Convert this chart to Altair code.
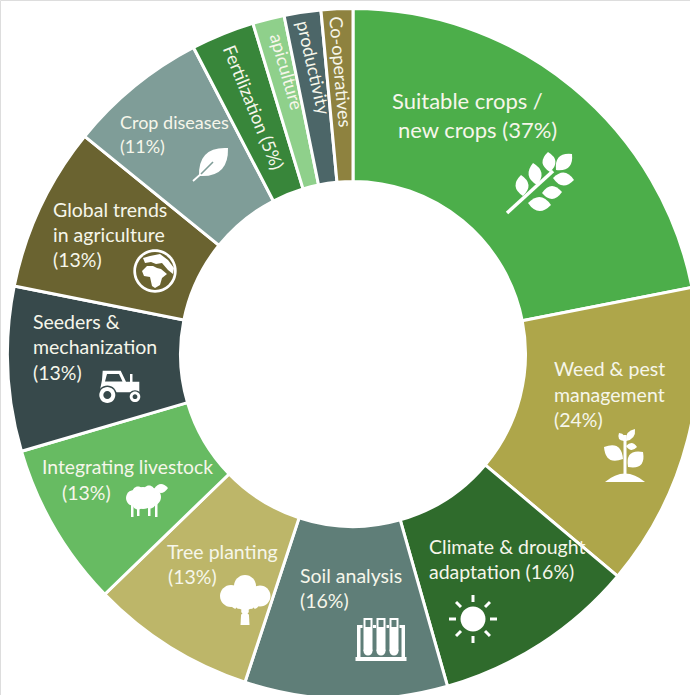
import math
import altair as alt
import pandas as pd

# Slices, clockwise from twelve o'clock
topics = ["Suitable crops / new crops", "Weed & pest management", "Climate & drought adaptation",
          "Soil analysis", "Tree planting", "Integrating livestock", "Seeders & mechanization",
          "Global trends in agriculture", "Crop diseases", "Fertilization", "apiculture",
          "productivity", "Co-operatives"]
shares = [37, 24, 16, 16, 13, 13, 13, 13, 11, 5, 2.5, 2.9, 2.5]
colours = ["#4cae4a", "#aea64a", "#2f6b2c", "#5f7e78", "#bdb669", "#67bb62", "#37494b",
           "#6a6330", "#7f9d98", "#38863a", "#8fd08b", "#4c6668", "#8e823f"]

INK = "#f6f6ea"
CX, CY = 353, 354

# Label lines: text, left edge, middle, size
flat_lines = [
    ("Suitable crops /", 392, 102, 22), ("new crops (37%)", 398, 131, 22),
    ("Weed & pest", 554, 370, 19.5), ("management", 554, 396, 19.5), ("(24%)", 554, 421, 19.5),
    ("Climate & drought", 429, 548, 19.5), ("adaptation (16%)", 429, 573, 19.5),
    ("Soil analysis", 300, 577, 19.5), ("(16%)", 300, 602, 19.5),
    ("Tree planting", 167, 553, 19.5), ("(13%)", 168, 578, 19.5),
    ("Integrating livestock", 42, 468, 19.3), ("(13%)", 62, 494, 19.5),
    ("Seeders &", 33, 323, 19.5), ("mechanization", 33, 348, 19.5), ("(13%)", 33, 374, 19.5),
    ("Global trends", 53, 211, 19.5), ("in agriculture", 53, 236, 19.5), ("(13%)", 53, 261, 19.5),
    ("Crop diseases", 120, 124, 18), ("(11%)", 120, 148, 18),
]
# Labels that run along the narrow slices: text, centre x, centre y, rotation
radial_lines = [
    ("Fertilization (5%)", 252, 108, 68),
    ("apiculture", 285, 72, 74),
    ("productivity", 312, 68, 77),
    ("Co-operatives", 339, 72, 85),
]


# Small shape helpers for the icons, in pixels around each icon's anchor
def poly(*pts):
    return "M" + "L".join(f"{x:.2f},{y:.2f}" for x, y in pts) + "Z"


def box(x0, y0, x1, y1):
    return poly((x0, y0), (x1, y0), (x1, y1), (x0, y1))


def disc(cx, cy, r):
    return (f"M{cx + r:.2f},{cy:.2f}A{r:.2f},{r:.2f} 0 1 1 {cx - r:.2f},{cy:.2f}"
            f"A{r:.2f},{r:.2f} 0 1 1 {cx + r:.2f},{cy:.2f}Z")


def bar(x0, y0, x1, y1, w):
    dx, dy = x1 - x0, y1 - y0
    n = math.hypot(dx, dy)
    ox, oy = -dy / n * w / 2, dx / n * w / 2
    return poly((x0 + ox, y0 + oy), (x1 + ox, y1 + oy), (x1 - ox, y1 - oy), (x0 - ox, y0 - oy))


def blade(x0, y0, x1, y1, w):
    # Pointed leaf whose widest part is about w across
    dx, dy = x1 - x0, y1 - y0
    n = math.hypot(dx, dy)
    ox, oy = -dy / n * w, dx / n * w
    mx, my = (x0 + x1) / 2, (y0 + y1) / 2
    return (f"M{x0:.2f},{y0:.2f}Q{mx + ox:.2f},{my + oy:.2f} {x1:.2f},{y1:.2f}"
            f"Q{mx - ox:.2f},{my - oy:.2f} {x0:.2f},{y0:.2f}Z")


WHITE = "#ffffff"
GREEN, OLIVE, FOREST, SLATE, SAND, MEADOW, CHARCOAL, UMBER, SAGE = colours[:9]

wheat = [
    (bar(-33, 30, 13, -12, 3.5), WHITE),
    (blade(-19, -8, -17, 13, 13), WHITE), (blade(-7, -20, -3, 2, 13), WHITE),
    (blade(8, -31, 10, -11, 13), WHITE), (blade(32, -29, 16, -13, 14), WHITE),
    (blade(34, -3, 13, -5, 13), WHITE), (blade(22, 9, 2, 10, 13), WHITE),
    (blade(11, 22, -12, 20, 14), WHITE),
]
weed_plant = [
    (box(-1.5, -20, 1.5, 22), WHITE), (blade(-2, 4, -21, -8, 15), WHITE),
    (blade(3, 12, 18, -3, 15), WHITE), (blade(1, -9, 12, -8, 7), WHITE),
    (blade(1, -14, 10, -26, 7), WHITE), (blade(-1, -14, -6, -22, 6), WHITE),
    ("M-20,27Q0,10 20,27Z", WHITE),
]
sun = [(disc(0, 0, 12.5), WHITE)] + [
    (bar(17 * math.cos(a), 17 * math.sin(a), 24 * math.cos(a), 24 * math.sin(a), 3), WHITE)
    for a in [i * math.pi / 4 for i in range(8)]
]
tubes = [
    (box(-25.5, 17, 25.5, 21), WHITE), (box(-24, -15, -20.5, 18), WHITE), (box(20.5, -15, 24, 18), WHITE),
    (box(-24, -15, 24, -12), WHITE),
    (box(-18.5, -23, -8, 11), SLATE), (box(-5, -23, 5.5, 11), SLATE), (box(8, -23, 18.5, 11), SLATE),
    (box(-17.5, -22, -8.5, 11), WHITE), (box(-4.5, -22, 4.5, 11), WHITE), (box(8.5, -22, 17.5, 11), WHITE),
    (disc(-13, 11, 4.5), WHITE), (disc(0, 11, 4.5), WHITE), (disc(13, 11, 4.5), WHITE),
    (box(-15.5, -20, -10.5, -13), SLATE), (box(-2.5, -20, 2.5, -13), SLATE), (box(10.5, -20, 15.5, -13), SLATE),
]
tree = [
    (disc(0, -14, 11), WHITE), (disc(-14, -4, 11), WHITE), (disc(15, -4, 10.5), WHITE), (disc(0, -3, 13), WHITE),
    (disc(-8, 2, 7), WHITE), (disc(8, 2, 7), WHITE),
    (poly((-3.5, 7), (3.5, 7), (4.5, 25), (-4.5, 25)), WHITE),
    (bar(-3, 14, -9, 8, 1.2), SAND), (bar(3, 14, 9, 8, 1.2), SAND),
]
sheep = [
    (disc(-4, -2, 11), WHITE), (disc(-13, -2, 8), WHITE), (disc(5, -3, 9), WHITE),
    (disc(-9, -8, 5.5), WHITE), (disc(2, -9, 5.5), WHITE), (disc(-9, 4, 5.5), WHITE), (disc(3, 3, 5.5), WHITE),
    (blade(7, -11, 21, -12, 9), WHITE),
    (box(-16, 5, -13.5, 17), WHITE), (box(-10, 5, -7.5, 16), WHITE), (box(1, 5, 3.5, 16), WHITE), (box(8, 3, 10.5, 17), WHITE),
]
tractor = [
    (poly((-17.3, -15.3), (0.7, -15.3), (6, -4.3), (19.3, -4.3), (19.3, 6.3), (-5, 6.3), (-20, 4), (-18, -6)), WHITE),
    (poly((-13, -12), (-1, -12), (2.5, -4.5), (-15, -4.5)), CHARCOAL),
    (box(10, -12, 12.5, -4), WHITE),
    (disc(-12.7, 9, 9.5), CHARCOAL), (disc(-12.7, 9, 8), WHITE), (disc(-12.7, 9, 4), CHARCOAL),
    (disc(15, 10.7, 6.5), CHARCOAL), (disc(15, 10.7, 5.3), WHITE), (disc(15, 10.7, 2.4), CHARCOAL),
]
globe = [
    (disc(0, 0, 21.7), WHITE), (disc(0, 0, 19), UMBER),
    (poly((-13, 0), (-8, -5), (-2, -5), (2, -3), (6, -2), (12, 3), (7, 7), (5, 14), (0, 17), (-3, 15), (-5, 6), (-11, 5)), WHITE),
    (poly((-12, -13), (-5, -15), (5, -17), (13, -11), (19, -3), (18, 3), (13, -1), (7, -8), (1, -7), (-4, -9), (-10, -8)), WHITE),
]
leaf = [
    (blade(-11, 10, 18, -18, 22), WHITE),
    (bar(-17, 15, -8, 7, 1.8), WHITE),
    (bar(-9, 8, 3, -4, 1.6), SAGE),
]

# Icon anchors
icons = [
    (wheat, 540, 183), (weed_plant, 625, 455), (sun, 473, 619), (tubes, 381, 640),
    (tree, 245, 600), (sheep, 147, 500), (tractor, 120, 386), (globe, 155, 271), (leaf, 210, 166),
]

slices = pd.DataFrame({"topic": topics, "share": shares, "colour": colours, "rank": range(len(topics))})
lines = pd.DataFrame(flat_lines, columns=["text", "x", "y", "size"])
radial = pd.DataFrame(radial_lines, columns=["text", "x", "y", "angle"])
icon_rows = pd.DataFrame(
    [{"path": p, "fill": f, "x": x, "y": y, "step": i}
     for shapes, x, y in icons for i, (p, f) in enumerate(shapes)]
)

ring = alt.Chart(slices).mark_arc(innerRadius=172.5, outerRadius=345.5, stroke="white", strokeWidth=3).encode(
    theta=alt.Theta("share:Q", stack=True),
    order=alt.Order("rank:Q"),
    color=alt.Color("colour:N", scale=None),
    x=alt.value(CX),
    y=alt.value(CY),
)

flat_text = alt.Chart(lines).mark_text(align="left", baseline="middle", font="Lato", color=INK).encode(
    x=alt.X("x:Q", scale=None),
    y=alt.Y("y:Q", scale=None),
    text="text:N",
    size=alt.Size("size:Q", scale=None),
)

radial_marks = [
    alt.Chart(radial[radial["text"] == t]).mark_text(
        align="center", baseline="middle", font="Lato", color=INK, fontSize=18, angle=a
    ).encode(x=alt.X("x:Q", scale=None), y=alt.Y("y:Q", scale=None), text="text:N")
    for t, a in zip(radial["text"], radial["angle"])
]

glyphs = alt.Chart(icon_rows).mark_point(filled=True, opacity=1, strokeWidth=0).encode(
    x=alt.X("x:Q", scale=None),
    y=alt.Y("y:Q", scale=None),
    shape=alt.Shape("path:N", scale=None),
    color=alt.Color("fill:N", scale=None),
    size=alt.value(4),
)

chart = alt.layer(ring, glyphs, flat_text, *radial_marks).properties(
    width=690, height=695, padding=0, autosize=alt.AutoSizeParams(type="none")
).configure_view(stroke=None).configure(background="white")

chart.save("out.html", embed_options={"renderer": "svg", "actions": False})
